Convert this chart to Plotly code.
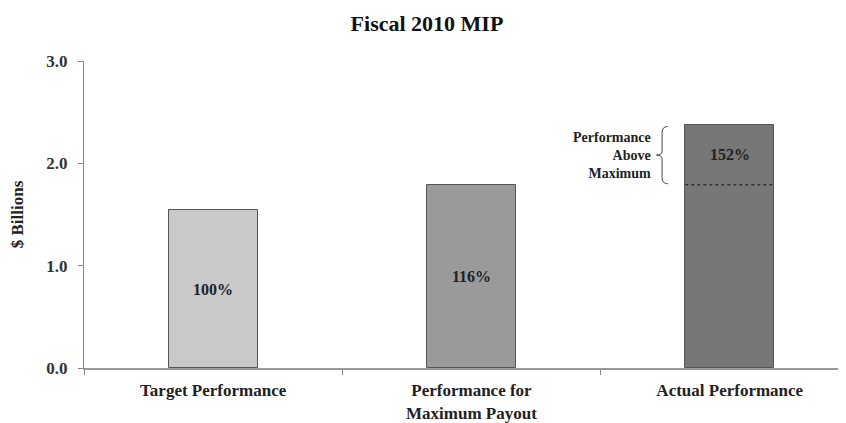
import plotly.graph_objects as go

categories = ["Target Performance", "Performance for<br>Maximum Payout", "Actual Performance"]
values = [1.54, 1.79, 2.375]
labels = ["100%", "116%", "152%"]
colors = ["#c9c9c9", "#9a9a9a", "#777777"]
y_ticks = [0.0, 1.0, 2.0, 3.0]
y_tick_text = ["0.0", "1.0", "2.0", "3.0"]

FONT = "Liberation Serif"
bar_w = 0.344

fig = go.Figure()
fig.add_trace(go.Bar(
    x=categories, y=values, width=bar_w,
    marker=dict(color=colors, line=dict(color="#555555", width=1)),
    hoverinfo="skip", showlegend=False,
))

# percentage labels
max_val = values[1]
label_y = [values[0] / 2, values[1] / 2, (max_val + values[2]) / 2]
for i, (lab, yy) in enumerate(zip(labels, label_y)):
    fig.add_annotation(x=i, y=yy, text=f"<b>{lab}</b>", showarrow=False,
                       font=dict(family=FONT, size=16, color="#222222"))

# dashed line at maximum payout inside actual bar
fig.add_shape(type="line", x0=2 - bar_w / 2, x1=2 + bar_w / 2, y0=max_val, y1=max_val,
              line=dict(color="#333333", width=1.5, dash="dot"))

# brace
bx = 2 - bar_w / 2 - 0.09
y_top, y_bot = values[2] - 0.015, max_val + 0.01
y_mid = (y_top + y_bot) / 2
d = 0.022
path = (f"M {bx+d},{y_top} Q {bx},{y_top} {bx},{y_top-0.06} "
        f"L {bx},{y_mid+0.04} Q {bx},{y_mid} {bx-d},{y_mid} "
        f"Q {bx},{y_mid} {bx},{y_mid-0.04} "
        f"L {bx},{y_bot+0.06} Q {bx},{y_bot} {bx+d},{y_bot}")
fig.add_shape(type="path", path=path, line=dict(color="#444444", width=1))
fig.add_annotation(x=bx - 0.035, y=y_mid, xanchor="right", align="right",
                   text="<b>Performance<br>Above<br>Maximum</b>", showarrow=False,
                   font=dict(family=FONT, size=14, color="#222222"))

fig.update_layout(
    width=838, height=415,
    margin=dict(l=74, r=0, t=53, b=55),
    paper_bgcolor="white", plot_bgcolor="white",
    title=dict(text="<b>Fiscal 2010 MIP</b>", x=0.5, xanchor="center", y=0.962, yanchor="middle",
               font=dict(family=FONT, size=22, color="#111111")),
    font=dict(family=FONT, color="#222222"),
    bargap=0,
)
fig.update_xaxes(
    type="category", range=[-0.5, 2.45],
    tickmode="array", tickvals=categories,
    ticktext=[f"<b>{c}</b>" for c in categories],
    tickfont=dict(family=FONT, size=17, color="#222222"),
    showline=True, linecolor="#999999", linewidth=2,
    ticks="outside", tickson="boundaries", ticklen=5, tickcolor="#888888",
    ticklabelstandoff=6,
    showgrid=False, zeroline=False,
)
fig.update_yaxes(
    range=[0, 3.0], tickmode="array", tickvals=y_ticks, ticktext=[f"<b>{t}</b>" for t in y_tick_text],
    tickfont=dict(family=FONT, size=17, color="#333333"),
    showline=True, linecolor="#888888", linewidth=1,
    ticks="outside", ticklen=5, tickcolor="#888888",
    ticklabelstandoff=7,
    showgrid=False, zeroline=False,
    title=dict(text="<b>$ Billions</b>", font=dict(family=FONT, size=17, color="#222222"), standoff=26),
)

fig.write_html("out.html")
